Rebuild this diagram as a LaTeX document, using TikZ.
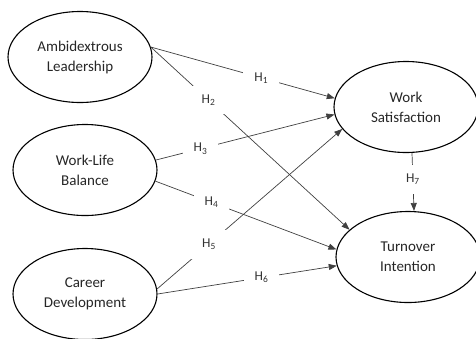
\documentclass[tikz,border=0pt]{standalone}
\usepackage{fontspec}
\setmainfont{Carlito}
\usetikzlibrary{shapes.geometric,arrows.meta}

\begin{document}
\begin{tikzpicture}[x=1pt, y=-1pt,
    construct/.style={draw, ellipse, line width=1.1pt, minimum width=144pt, minimum height=91pt,
      inner sep=0pt, align=center, text=black!85, font=\fontsize{15}{20}\selectfont},
    effect/.style={draw=black!75, line width=0.7pt, -{Triangle[length=8pt,width=6pt]}},
    hyp/.style={fill=white, inner xsep=11pt, inner ysep=9pt, text=black!80,
      font=\fontsize{13.5}{15}\selectfont}]
  \path[use as bounding box] (0,0) rectangle (476,338);

  % independent variables
  \node[construct] (al)  at (80,57)  {Ambidextrous\\Leadership};
  \node[construct] (wlb) at (85,170) {Work-Life\\Balance};
  \node[construct] (cd)  at (85,294) {Career\\Development};
  % mediator and outcome
  \node[construct] (ws) at (406,107) {Work\\Satisfaction};
  \node[construct] (ti) at (408,257) {Turnover\\Intention};

  % hypothesised paths
  \draw[effect] (al.8)  -- node[hyp, pos=0.6]  {H\textsubscript{1}} (ws.173);
  \draw[effect] (al.8)  -- node[hyp, pos=0.29] {H\textsubscript{2}} (ti.155);
  \draw[effect] (wlb.8) -- node[hyp, pos=0.25] {H\textsubscript{3}} (ws.186);
  \draw[effect] (wlb.-9) -- node[hyp, pos=0.31] {H\textsubscript{4}} (ti.174);
  \draw[effect] (cd.4)  -- node[hyp, pos=0.28] {H\textsubscript{5}} (ws.199);
  \draw[effect] (cd.0)  -- node[hyp, pos=0.58] {H\textsubscript{6}} (ti.187);
  \draw[effect] ([xshift=6pt]ws.south) -- node[hyp, pos=0.45] {H\textsubscript{7}} ([xshift=6pt]ti.north);
\end{tikzpicture}
\end{document}
